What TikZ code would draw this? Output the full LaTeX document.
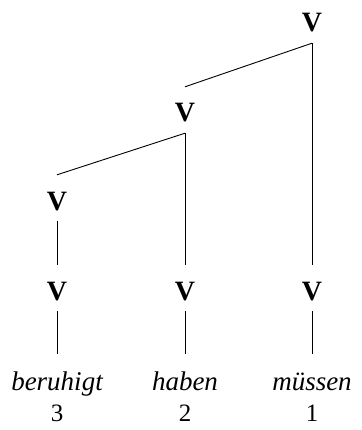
\documentclass[tikz,border=0pt]{standalone}
\usepackage{fontspec}
\setmainfont{Liberation Serif}
\begin{document}
\begin{tikzpicture}[x=1pt,y=-1pt,
  cat/.style={font=\fontsize{28}{30}\selectfont\bfseries, anchor=base, inner xsep=2pt, inner ysep=11pt, text height=24pt, text depth=0pt},
  word/.style={font=\fontsize{27}{30}\selectfont\itshape, anchor=base, inner xsep=2pt, inner ysep=16pt, text height=20pt, text depth=0pt},
  num/.style={font=\fontsize{25}{30}\selectfont, anchor=base, inner sep=0pt},
  edge/.style={line width=0.9pt}]
\useasboundingbox (0,0) rectangle (361,430);
\node[cat] (top) at (312,32) {V};
\node[cat] (mid) at (185,122) {V};
\node[cat] (left) at (57,210) {V};
\node[cat] (b1) at (57,300) {V};
\node[cat] (b2) at (185,300) {V};
\node[cat] (b3) at (312,300) {V};
\node[word] (w1) at (57,390) {beruhigt};
\node[word] (w2) at (185,390) {haben};
\node[word] (w3) at (312,390) {müssen};
\node[num] (n1) at (57,421) {3};
\node[num] (n2) at (185,421) {2};
\node[num] (n3) at (312,421) {1};
\draw[edge] (top.south) -- (mid.north);
\draw[edge] (top.south) -- (b3.north);
\draw[edge] (mid.south) -- (left.north);
\draw[edge] (mid.south) -- (b2.north);
\draw[edge] (left.south) -- (b1.north);
\draw[edge] (b1.south) -- (w1.north);
\draw[edge] (b2.south) -- (w2.north);
\draw[edge] (b3.south) -- (w3.north);
\end{tikzpicture}
\end{document}
